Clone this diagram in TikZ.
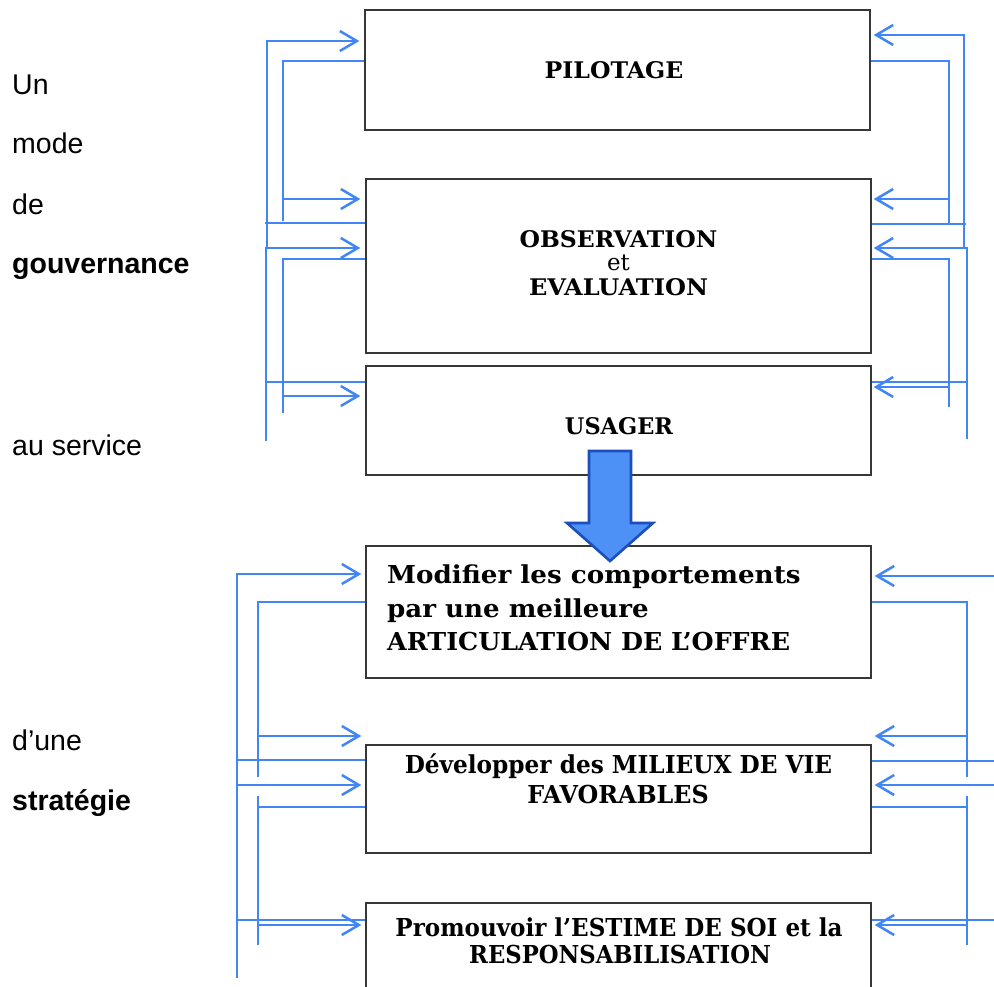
\documentclass[tikz,border=0pt]{standalone}
\usepackage{fontspec}
\setmainfont{Liberation Serif}
\newfontfamily\boxfont{DejaVu Serif}
\newfontfamily\sidefont{Liberation Sans}
\usetikzlibrary{arrows.meta}
\definecolor{lineblue}{RGB}{66,133,244}
\definecolor{arrowfill}{RGB}{77,145,247}
\definecolor{arrowedge}{RGB}{28,78,188}
\definecolor{boxedge}{RGB}{55,55,55}
\newcommand{\sx}[2]{\scalebox{#1}[1]{#2}}
\begin{document}
\begin{tikzpicture}[x=1pt,y=-1pt,
  box/.style={draw=boxedge,line width=1.4pt,inner sep=0pt,minimum width=505pt},
  conn/.style={draw=lineblue,line width=2.5pt},
  thinline/.style={draw=lineblue,line width=2pt},
  arr/.style={conn,-{Straight Barb[length=17pt,width=20pt]}},
  toptext/.style={anchor=base,inner sep=0pt,font=\boxfont\bfseries\fontsize{22.9}{22.9}\selectfont},
  bottext/.style={inner sep=0pt,font=\boxfont\bfseries\fontsize{24.7}{24.7}\selectfont},
  side/.style={anchor=base west,inner sep=0pt,font=\sidefont\fontsize{28.5}{28.5}\selectfont}]
\clip (0,0) rectangle (994,986);
\fill[white] (0,0) rectangle (994,986);

% boxes
\node[box,minimum height=120pt] (pil) at (617.5,70) {};
\node[box,minimum height=174pt] (obs) at (618.5,266) {};
\node[box,minimum height=109pt] (usa) at (618.5,420.5) {};
\node[box,minimum height=132pt] (mod) at (618.5,612) {};
\node[box,minimum height=108pt] (dev) at (618.5,799) {};
\node[box,minimum height=120pt] (pro) at (618.5,963) {};

% box texts
\node[toptext] (tpil) at (614,78) {\sx{1.03}{PILOTAGE}};
\node[toptext] (tobs1) at (618.5,247) {\sx{1.026}{OBSERVATION}};
\node[toptext,font=\boxfont\fontsize{22.9}{22.9}\selectfont] (tobs2) at (618.5,270) {et};
\node[toptext] (tobs3) at (618.5,295) {\sx{1.05}{EVALUATION}};
\node[toptext] (tusa) at (619,434) {\sx{0.98}{USAGER}};

\node[bottext,anchor=base west] (tmod1) at (387,583) {\sx{1.06}{Modifier les comportements}};
\node[bottext,anchor=base west] (tmod2) at (387,617) {\sx{1.057}{par une meilleure}};
\node[bottext,anchor=base west] (tmod3) at (387,650) {\sx{1.025}{ARTICULATION DE L’OFFRE}};
\node[bottext,anchor=base] (tdev1) at (618.5,773) {\sx{0.94}{Développer des MILIEUX DE VIE}};
\node[bottext,anchor=base] (tdev2) at (618,803) {\sx{0.963}{FAVORABLES}};
\node[bottext,anchor=base] (tpro1) at (619,936) {\sx{0.933}{Promouvoir l’ESTIME DE SOI et la}};
\node[bottext,anchor=base] (tpro2) at (620,963) {\sx{0.92}{RESPONSABILISATION}};

% side text
\node[side] (s1) at (12,94) {Un};
\node[side] (s2) at (12,153) {mode};
\node[side] (s3) at (12,214) {de};
\node[side,font=\sidefont\bfseries\fontsize{28.5}{28.5}\selectfont] (s4) at (12,273) {gouvernance};
\node[side] (s5) at (12,455) {au service};
\node[side] (s6) at (12,750) {d’une};
\node[side,font=\sidefont\bfseries\fontsize{28.5}{28.5}\selectfont] (s7) at (12,810) {stratégie};

% top left connectors
\draw[arr,shorten >=5pt] (267,247) -- (267,41) -- (pil.west |- 0,41);
\draw[thinline] (pil.west |- 0,61) -- (283,61) -- (283,221);
\draw[arr,shorten >=5pt] (283,199) -- (obs.west |- 0,199);
\draw[thinline] (265,223) -- (obs.west |- 0,223);
\draw[arr,shorten >=5pt] (266,441) -- (266,248) -- (obs.west |- 0,248);
\draw[thinline] (obs.west |- 0,259) -- (283,259) -- (283,413);
\draw[arr,shorten >=5pt] (283,396) -- (usa.west |- 0,396);
\draw[thinline] (267,382) -- (usa.west |- 0,382);

% top right connectors
\draw[arr,shorten >=3pt] (964,247) -- (964,35) -- (pil.east |- 0,35);
\draw[thinline] (pil.east |- 0,61) -- (949,61) -- (949,223);
\draw[arr,shorten >=2pt] (949,199) -- (obs.east |- 0,199);
\draw[thinline] (obs.east |- 0,224) -- (966,224);
\draw[arr,shorten >=2pt] (967,439) -- (967,248) -- (obs.east |- 0,248);
\draw[thinline] (obs.east |- 0,259) -- (949,259) -- (949,407);
\draw[arr,shorten >=2pt] (949,387) -- (usa.east |- 0,387);
\draw[thinline] (usa.east |- 0,382) -- (967,382);

% bottom left connectors
\draw[arr,shorten >=4pt] (237,802) -- (237,574) -- (mod.west |- 0,574);
\draw[conn] (237,785) -- (237,978);
\draw[thinline] (mod.west |- 0,602) -- (258,602) -- (258,777);
\draw[arr,shorten >=4pt] (258,736) -- (dev.west |- 0,736);
\draw[thinline] (237,760) -- (dev.west |- 0,760);
\draw[arr,shorten >=4pt] (237,785) -- (dev.west |- 0,785);
\draw[thinline] (dev.west |- 0,807) -- (258,807);
\draw[thinline] (258,796) -- (258,945);
\draw[thinline] (237,920) -- (pro.west |- 0,920);
\draw[arr,shorten >=4pt] (258,925) -- (pro.west |- 0,925);

% bottom right connectors
\draw[arr,shorten >=3pt] (994,576) -- (mod.east |- 0,576);
\draw[thinline] (mod.east |- 0,602) -- (967,602) -- (967,777);
\draw[arr,shorten >=3pt] (967,736) -- (dev.east |- 0,736);
\draw[thinline] (dev.east |- 0,761) -- (994,761);
\draw[arr,shorten >=3pt] (994,785) -- (dev.east |- 0,785);
\draw[thinline] (967,796) -- (967,945);
\draw[thinline] (dev.east |- 0,807) -- (967,807);
\draw[thinline] (pro.east |- 0,920) -- (994,920);
\draw[arr,shorten >=3pt] (967,925) -- (pro.east |- 0,925);

% block arrow
\draw[fill=arrowfill,draw=arrowedge,line width=2.6pt,line join=miter]
  (589,451) -- (631,451) -- (631,523) -- (653,523) -- (610,561) -- (567,523) -- (589,523) -- cycle;
\end{tikzpicture}
\end{document}
